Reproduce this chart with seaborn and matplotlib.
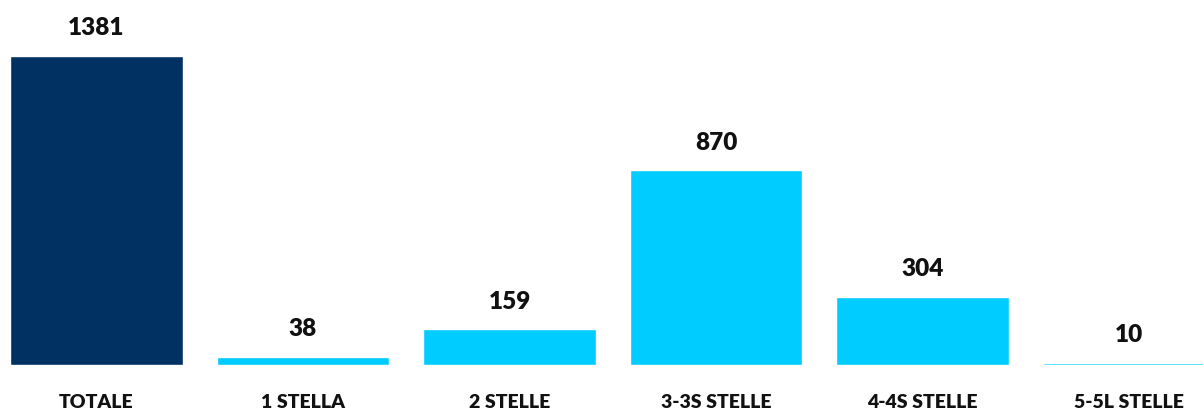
import matplotlib
matplotlib.use("Agg")
import matplotlib.pyplot as plt
import seaborn as sns
import pandas as pd

# Hotel counts by star category
categories = ["TOTALE", "1 STELLA", "2 STELLE", "3-3S STELLE", "4-4S STELLE", "5-5L STELLE"]
values = [1381, 38, 159, 870, 304, 10]
bar_colors = ["#003163", "#00CCFF", "#00CCFF", "#00CCFF", "#00CCFF", "#00CCFF"]

sns.set_theme(style="white")
plt.rcParams["font.family"] = ["Lato", "DejaVu Sans"]

df = pd.DataFrame({"categoria": categories, "numero": values})

fig = plt.figure(figsize=(12.03, 4.12), dpi=100)
ax = fig.add_axes([0, 47 / 412, 1, 365 / 412])

sns.barplot(data=df, x="categoria", y="numero", hue="categoria",
            palette=bar_colors, width=0.837, saturation=1,
            legend=False, ax=ax)

ax.set_xlim(-96.5 / 206.5, (1203 - 96.5) / 206.5)
ax.set_ylim(0, 1632)

for i, v in enumerate(values):
    ax.annotate(f"{v}", xy=(i, v), xytext=(0, 15), textcoords="offset points",
                ha="center", va="baseline", fontsize=17.5, fontweight="heavy",
                color="#111111")

ax.set_xlabel("")
ax.set_ylabel("")
ax.set_yticks([])
ax.tick_params(axis="x", length=0, pad=21, labelsize=14)
for lbl in ax.get_xticklabels():
    lbl.set_fontweight("heavy")
    lbl.set_color("#111111")
sns.despine(ax=ax, left=True, bottom=True)

fig.savefig("out.png", dpi=100)
